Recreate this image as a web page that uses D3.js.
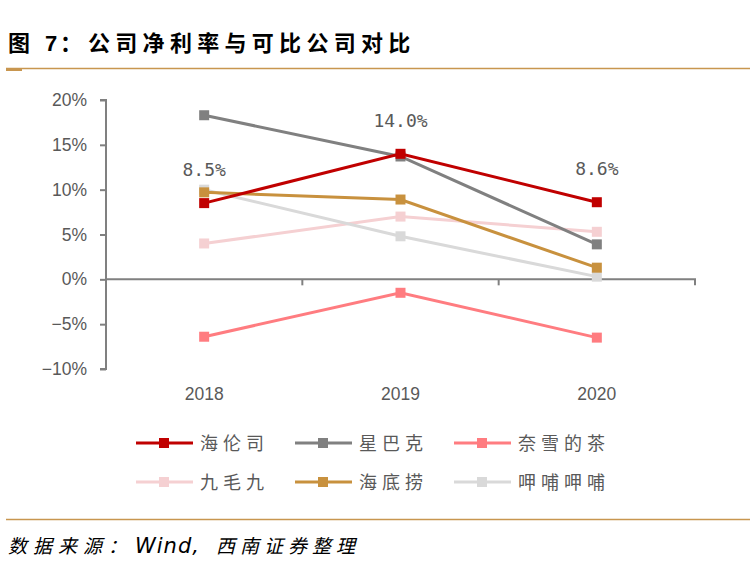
<!DOCTYPE html>
<html><head><meta charset="utf-8">
<script src="https://cdn.jsdelivr.net/npm/d3@7"></script>
<style>body{margin:0;background:#fff}svg{display:block}</style>
</head><body>
<script>
const years = ["2018","2019","2020"];
const companies = ["海伦司","星巴克","奈雪的茶","九毛九","海底捞","呷哺呷哺"];
const haiLunSi = [8.5, 14.0, 8.6];
const starbucks = [18.3, 13.7, 3.9];
const naixue = [-6.4, -1.5, -6.5];
const jiuMaoJiu = [4.0, 7.0, 5.3];
const haiDiLao = [9.7, 8.9, 1.3];
const xiaBu = [10.0, 4.8, 0.3];
const yTicks = [-10, -5, 0, 5, 10, 15, 20];
const labelValues = [8.5, 14.0, 8.6];
const colors = ["#c00000","#808080","#ff7c80","#f5d0d2","#c8913e","#d9d9d9"];
const seriesVals = [haiLunSi, starbucks, naixue, jiuMaoJiu, haiDiLao, xiaBu];

const W = 756, H = 574;
const svg = d3.select("body").append("svg").attr("width", W).attr("height", H);
const font = "Arial, 'Liberation Sans', sans-serif";
const cjk = "'Noto Sans CJK SC', sans-serif";

// title
const title = svg.append("text").attr("y", 51).attr("font-family", cjk).attr("font-weight", "bold")
  .attr("font-size", 22).attr("fill", "#000");
title.append("tspan").attr("x", 8).text("图");
title.append("tspan").attr("x", 45).attr("font-family", font).text("7");
title.append("tspan").attr("x", 60).text("：");
title.append("tspan").attr("x", 88).attr("letter-spacing", 5.3).text("公司净利率与可比公司对比");
svg.append("line").attr("x1", 6).attr("x2", 750).attr("y1", 68.5).attr("y2", 68.5).attr("stroke", "#c8964f").attr("stroke-width", 1.5);
svg.append("rect").attr("x", 6).attr("y", 68).attr("width", 16).attr("height", 3).attr("fill", "#c8964f");
svg.append("line").attr("x1", 6).attr("x2", 750).attr("y1", 519.5).attr("y2", 519.5).attr("stroke", "#c8964f").attr("stroke-width", 1.5);
const src = svg.append("text").attr("y", 553).attr("font-family", cjk).attr("font-style", "italic")
  .attr("font-size", 19).attr("fill", "#000");
src.append("tspan").attr("x", 8).attr("letter-spacing", 6).text("数据来源：");
src.append("tspan").attr("x", 135).attr("font-family", "'DejaVu Sans', sans-serif").attr("font-size", 21)
  .attr("letter-spacing", 1).text("Wind,");
src.append("tspan").attr("x", 216).attr("letter-spacing", 5).text("西南证券整理");

const x = d3.scaleBand().domain(years).range([106, 695]);
const y = d3.scaleLinear().domain([-10, 20]).range([369, 100]);

// y axis
const yAxis = svg.append("g").attr("transform", "translate(106,0)")
  .call(d3.axisLeft(y).tickValues(yTicks).tickSize(6).tickFormat(d => (d < 0 ? "\u2212" + Math.abs(d) : d) + "%"));
yAxis.select(".domain").attr("stroke", "#808080").attr("stroke-width", 2).attr("d", `M-6,${y(20)}H0V${y(-10)}H-6`);
yAxis.selectAll(".tick line").attr("stroke", "#808080").attr("stroke-width", 2);
yAxis.selectAll(".tick text").attr("font-family", font).attr("font-size", 17.5).attr("fill", "#595959").attr("x", -19);

// x axis at zero
const xAxis = svg.append("g").attr("transform", `translate(0,${y(0)})`)
  .call(d3.axisBottom(x).tickSize(0).tickFormat(""));
xAxis.select(".domain").attr("stroke", "#808080").attr("stroke-width", 2).attr("d", `M106,0H695V6`);
const bounds = x.domain().slice(1).map(d => x(d));
xAxis.selectAll(".sep").data(bounds).join("line").attr("class", "sep")
  .attr("x1", d => d).attr("x2", d => d).attr("y1", 0).attr("y2", 6).attr("stroke", "#808080").attr("stroke-width", 2);

svg.append("g").selectAll("text").data(years).join("text")
  .attr("x", d => x(d) + x.bandwidth() / 2).attr("y", 400).attr("text-anchor", "middle")
  .attr("font-family", font).attr("font-size", 17.5).attr("fill", "#595959").text(d => d);

const line = d3.line().x((d, i) => x(years[i]) + x.bandwidth() / 2).y(d => y(d));
const order = [3, 5, 2, 1, 4, 0];
order.forEach(k => {
  const g = svg.append("g");
  g.append("path").datum(seriesVals[k]).attr("d", line).attr("fill", "none")
    .attr("stroke", colors[k]).attr("stroke-width", 3);
  g.selectAll("rect").data(seriesVals[k]).join("rect")
    .attr("x", (d, i) => x(years[i]) + x.bandwidth() / 2 - 5).attr("y", d => y(d) - 5)
    .attr("width", 10).attr("height", 10).attr("fill", colors[k]);
});

// data labels for 海伦司
svg.append("g").selectAll("text").data(labelValues).join("text")
  .attr("x", (d, i) => x(years[i]) + x.bandwidth() / 2)
  .attr("y", (d, i) => [176, 127, 175][i])
  .attr("text-anchor", "middle").attr("font-family", "'DejaVu Sans Mono', monospace")
  .attr("font-size", 18).attr("fill", "#595959").text(d => d.toFixed(1) + "%");

// legend
const legX = [136, 295, 454];
const legY = [443, 482];
companies.forEach((c, i) => {
  const lx = legX[i % 3], ly = legY[Math.floor(i / 3)];
  const g = svg.append("g");
  g.append("line").attr("x1", lx).attr("x2", lx + 57).attr("y1", ly).attr("y2", ly)
    .attr("stroke", colors[i]).attr("stroke-width", 3);
  g.append("rect").attr("x", lx + 23).attr("y", ly - 5).attr("width", 10).attr("height", 10).attr("fill", colors[i]);
  g.append("text").attr("x", lx + 64).attr("y", ly + 7).attr("font-family", cjk)
    .attr("font-size", 18).attr("fill", "#595959").attr("letter-spacing", 5).text(c);
});
</script>
</body></html>
